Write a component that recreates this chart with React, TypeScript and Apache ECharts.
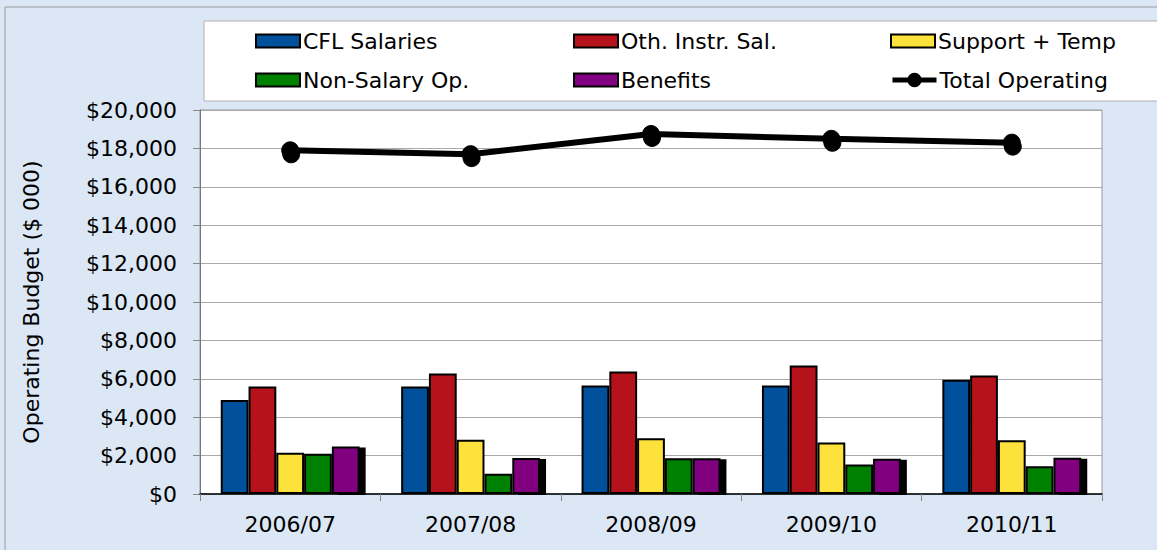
import React, { useEffect, useRef } from "react";
import * as echarts from "echarts";

const categories = ["2006/07", "2007/08", "2008/09", "2009/10", "2010/11"];
const cflSalaries = [4900, 5600, 5650, 5650, 5950];
const othInstrSal = [5600, 6270, 6380, 6690, 6170];
const supportTemp = [2150, 2820, 2900, 2680, 2800];
const nonSalaryOp = [2100, 1060, 1860, 1540, 1440];
const benefits = [2480, 1880, 1860, 1840, 1890];
const totalOperating = [17900, 17700, 18750, 18500, 18300];
const yTicks = { min: 0, max: 20000, interval: 2000 };

const FONT = "DejaVu Sans";

export default function App() {
  const ref = useRef<HTMLDivElement>(null);
  useEffect(() => {
    if (!ref.current) return;
    const chart = echarts.init(ref.current, null, { renderer: "svg" });
    const bar = (name: string, data: number[], color: string, shadow: boolean) => ({
      name,
      type: "bar",
      data,
      barGap: "0%",
      barCategoryGap: "23%",
      itemStyle: shadow
        ? {
            color,
            borderColor: "#000",
            borderWidth: 2,
            shadowColor: "rgba(0,0,0,1)",
            shadowBlur: 0,
            shadowOffsetX: 6,
            shadowOffsetY: 1,
          }
        : { color, borderColor: "#000", borderWidth: 2 },
    });
    const legendBase = {
      padding: 0,
      itemWidth: 44,
      itemHeight: 13,
      itemGap: 0,
      textStyle: { fontSize: 22, fontFamily: FONT, color: "#000", padding: [0, 0, 0, -2] },
      itemStyle: { shadowBlur: 0, shadowOffsetX: 0, shadowOffsetY: 0, shadowColor: "transparent" },
    };
    chart.setOption({
      animation: false,
      backgroundColor: "#dbe7f5",
      graphic: [
        {
          type: "rect",
          shape: { x: 5, y: 7, width: 1200, height: 600 },
          style: { fill: "none", stroke: "#9a9a9a", lineWidth: 1 },
          silent: true,
          z: -10,
        },
        {
          type: "rect",
          shape: { x: 204, y: 21, width: 1000, height: 80 },
          style: { fill: "#ffffff", stroke: "#b0b0b0", lineWidth: 1 },
          silent: true,
          z: -10,
        },
      ],
      legend: [
        { ...legendBase, data: [{ name: "CFL Salaries", icon: "rect" }], left: 255, top: 30 },
        { ...legendBase, data: [{ name: "Oth. Instr. Sal.", icon: "rect" }], left: 573, top: 30 },
        { ...legendBase, data: [{ name: "Support + Temp", icon: "rect" }], left: 890, top: 30 },
        { ...legendBase, data: [{ name: "Non-Salary Op.", icon: "rect" }], left: 255, top: 69 },
        { ...legendBase, data: [{ name: "Benefits", icon: "rect" }], left: 573, top: 69 },
        {
          ...legendBase,
          data: ["Total Operating"],
          left: 890,
          top: 69,
          itemHeight: 18,
          lineStyle: { width: 5, color: "#000" },
        },
      ],
      grid: {
        left: 200,
        top: 110,
        width: 902,
        height: 384,
        show: true,
        backgroundColor: "#ffffff",
        borderColor: "#999",
        borderWidth: 1,
      },
      xAxis: {
        type: "category",
        data: categories,
        z: 5,
        axisLine: { lineStyle: { color: "#000", width: 1.5 } },
        axisTick: { show: true, length: 7, alignWithLabel: false, lineStyle: { color: "#888" } },
        axisLabel: { fontSize: 22, fontFamily: FONT, color: "#000", margin: 19 },
      },
      yAxis: {
        type: "value",
        min: yTicks.min,
        max: yTicks.max,
        interval: yTicks.interval,
        name: "Operating Budget ($ 000)",
        nameLocation: "middle",
        nameGap: 158,
        nameTextStyle: { fontSize: 22, fontFamily: FONT, color: "#000" },
        axisLine: { show: true, lineStyle: { color: "#777", width: 1 } },
        axisTick: { show: true, length: 7, lineStyle: { color: "#888" } },
        axisLabel: {
          fontSize: 22,
          fontFamily: FONT,
          color: "#000",
          margin: 23,
          formatter: (v: number) => "$" + v.toLocaleString("en-US"),
        },
        splitLine: { show: true, lineStyle: { color: "#aaa", width: 1 } },
      },
      series: [
        bar("CFL Salaries", cflSalaries, "#00509b", false),
        bar("Oth. Instr. Sal.", othInstrSal, "#b5121b", false),
        bar("Support + Temp", supportTemp, "#fde23c", false),
        bar("Non-Salary Op.", nonSalaryOp, "#008000", false),
        bar("Benefits", benefits, "#800080", true),
        {
          name: "Total Operating",
          type: "line",
          data: totalOperating,
          symbol: "circle",
          symbolSize: 17,
          z: 10,
          lineStyle: { color: "#000", width: 6 },
          itemStyle: {
            color: "#000",
            borderColor: "#000",
            shadowColor: "rgba(0,0,0,1)",
            shadowBlur: 0,
            shadowOffsetX: 1,
            shadowOffsetY: 4,
          },
        },
      ],
    });
    return () => chart.dispose();
  }, []);
  return (
    <div
      ref={ref}
      style={{ position: "absolute", left: 0, top: 0, width: 1157, height: 550 }}
    />
  );
}
